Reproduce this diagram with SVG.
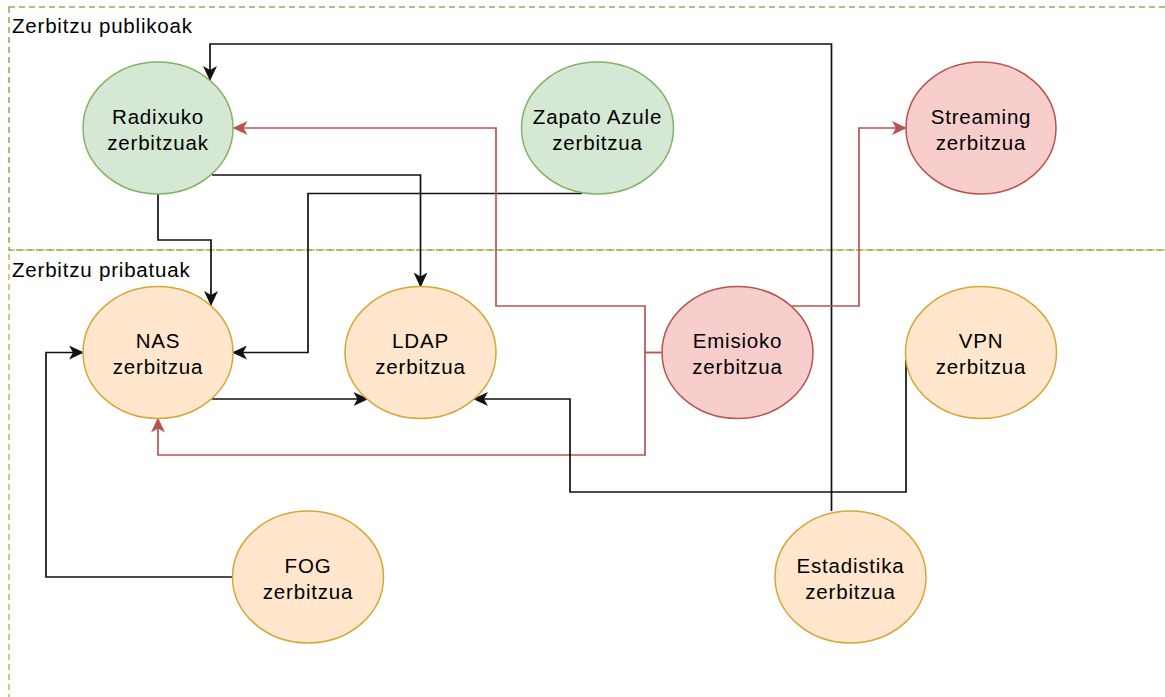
<svg xmlns="http://www.w3.org/2000/svg" width="1165" height="697" viewBox="0 0 1165 697">
  <style>
    .lbl { font-family: "Liberation Sans", Arial, sans-serif; font-size: 20.5px; letter-spacing: 0.8px; fill: #000; }
    .node text { text-anchor: middle; }
    .green ellipse { fill: #d5e8d4; stroke: #82b366; stroke-width: 1.5; }
    .red ellipse { fill: #f8cecc; stroke: #b85450; stroke-width: 1.5; }
    .orange ellipse { fill: #ffe6cc; stroke: #d6a733; stroke-width: 1.5; }
    .edge { fill: none; stroke-width: 1.7; }
    .blk { stroke: #111; marker-end: url(#arrowBlack); }
    .rd { stroke: #b85450; marker-end: url(#arrowRed); }
    .lane { fill: none; stroke-width: 1.6; stroke-dasharray: 6 4; }
  </style>
  <defs>
    <marker id="arrowBlack" markerUnits="userSpaceOnUse" markerWidth="15" markerHeight="14" viewBox="0 0 15 14" refX="14" refY="7" orient="auto">
      <path d="M0,0 L15,7 L0,14 L4,7 Z" fill="#111"/>
    </marker>
    <marker id="arrowRed" markerUnits="userSpaceOnUse" markerWidth="15" markerHeight="14" viewBox="0 0 15 14" refX="14" refY="7" orient="auto">
      <path d="M0,0 L15,7 L0,14 L4,7 Z" fill="#b85450"/>
    </marker>
  </defs>
  <rect width="1165" height="697" fill="#fff"/>

  <!-- swimlanes -->
  <g id="lane-pribatuak">
    <rect class="lane" x="9" y="250" width="1170" height="460" stroke="#d6b656"/>
    <text class="lbl" x="12" y="277">Zerbitzu pribatuak</text>
  </g>
  <g id="lane-publikoak">
    <rect class="lane" x="9" y="7" width="1170" height="243" stroke="#82b366"/>
    <text class="lbl" x="12" y="33">Zerbitzu publikoak</text>
  </g>

  <!-- connectors -->
  <g id="connectors">
    <path class="edge blk" d="M831.5,511 V44 H210 V80"/>
    <path class="edge blk" d="M212,175 H420.5 V286.5"/>
    <path class="edge blk" d="M158,194 V240 H211 V305"/>
    <path class="edge blk" d="M582,193.5 H308 V352.5 H233"/>
    <path class="edge blk" d="M212,399 H367.5"/>
    <path class="edge rd" d="M662,352.5 H645 V306 H496 V128 H233.5"/>
    <path class="edge rd" d="M662,352.5 H645 V455 H158 V418.5"/>
    <path class="edge rd" d="M791.5,306 H859 V128 H906"/>
    <path class="edge blk" d="M906,360 V492 H570 V399 H474"/>
    <path class="edge blk" d="M232.5,577 H46 V352.5 H83"/>
  </g>

  <!-- services -->
  <g id="radixuko" class="node green">
    <ellipse cx="158" cy="128" rx="75" ry="66"/>
    <text class="lbl" x="158" y="123.5">Radixuko</text>
    <text class="lbl" x="158" y="149.5">zerbitzuak</text>
  </g>
  <g id="zapato-azule" class="node green">
    <ellipse cx="597.5" cy="128" rx="76" ry="66"/>
    <text class="lbl" x="597.5" y="123.5">Zapato Azule</text>
    <text class="lbl" x="597.5" y="149.5">zerbitzua</text>
  </g>
  <g id="streaming" class="node red">
    <ellipse cx="981" cy="128" rx="75" ry="66"/>
    <text class="lbl" x="981" y="123.5">Streaming</text>
    <text class="lbl" x="981" y="149.5">zerbitzua</text>
  </g>
  <g id="nas" class="node orange">
    <ellipse cx="158" cy="352.5" rx="75" ry="66"/>
    <text class="lbl" x="158" y="348">NAS</text>
    <text class="lbl" x="158" y="374">zerbitzua</text>
  </g>
  <g id="ldap" class="node orange">
    <ellipse cx="420.5" cy="352.5" rx="75.5" ry="66"/>
    <text class="lbl" x="420.5" y="348">LDAP</text>
    <text class="lbl" x="420.5" y="374">zerbitzua</text>
  </g>
  <g id="emisioko" class="node red">
    <ellipse cx="737.5" cy="352.5" rx="75.5" ry="66"/>
    <text class="lbl" x="737.5" y="348">Emisioko</text>
    <text class="lbl" x="737.5" y="374">zerbitzua</text>
  </g>
  <g id="vpn" class="node orange">
    <ellipse cx="981" cy="352.5" rx="75.5" ry="66"/>
    <text class="lbl" x="981" y="348">VPN</text>
    <text class="lbl" x="981" y="374">zerbitzua</text>
  </g>
  <g id="fog" class="node orange">
    <ellipse cx="308" cy="577" rx="75.5" ry="66"/>
    <text class="lbl" x="308" y="572.5">FOG</text>
    <text class="lbl" x="308" y="598.5">zerbitzua</text>
  </g>
  <g id="estadistika" class="node orange">
    <ellipse cx="850.5" cy="577" rx="75.5" ry="66"/>
    <text class="lbl" x="850.5" y="572.5">Estadistika</text>
    <text class="lbl" x="850.5" y="598.5">zerbitzua</text>
  </g>
</svg>
